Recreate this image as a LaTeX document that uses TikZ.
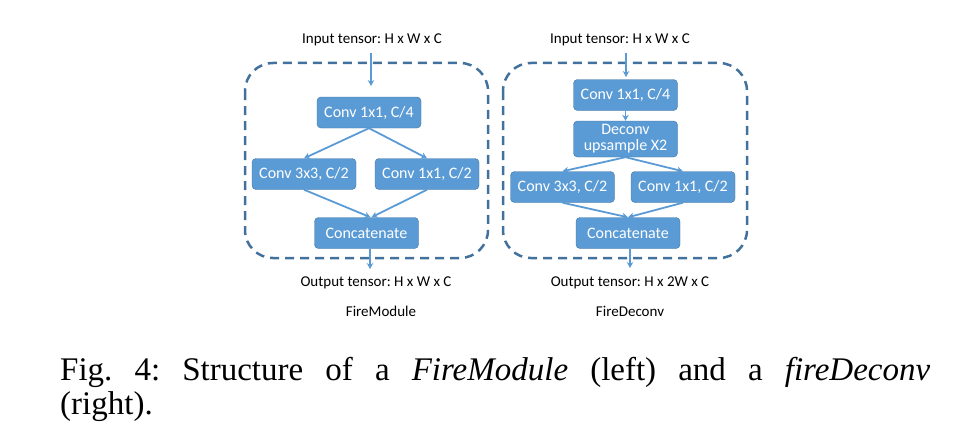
\documentclass[tikz,border=0pt]{standalone}
\usepackage{fontspec}
\setmainfont{Liberation Serif}
\newfontfamily\boxfont{Carlito}
\usetikzlibrary{arrows.meta}
\frenchspacing

\definecolor{boxblue}{HTML}{5B9BD5}
\definecolor{edgeblue}{HTML}{41719C}

\begin{document}
\begin{tikzpicture}[x=1pt, y=-1pt, >={Stealth[length=6pt,width=6.5pt]},
    layer/.style={rectangle, rounded corners=4pt, draw=edgeblue, fill=boxblue, text=white,
        minimum width=104pt, minimum height=31pt, inner sep=0pt, align=center,
        font=\boxfont\fontsize{16}{16}\selectfont},
    label/.style={inner sep=0pt, font=\boxfont\fontsize{15}{18}\selectfont},
    flow/.style={->, draw=boxblue, line width=1.8pt},
    frame/.style={draw=edgeblue, line width=2.5pt, dash pattern=on 9pt off 6pt, rounded corners=28pt}]
        \useasboundingbox (0,0) rectangle (958,444);

        % FireModule
        \node[label] (inL) at (372, 40) {Input tensor: H x W x C};
        \coordinate (inLend) at (371, 86);
        \draw[frame] (245, 63) rectangle (488, 258);
        \node[layer] (sqL) at (369, 112.5) {Conv 1x1, C/4};
        \node[layer] (e3L) at (304, 174) {Conv 3x3, C/2};
        \node[layer] (e1L) at (427, 174) {Conv 1x1, C/2};
        \node[layer] (catL) at (366.5, 233) {Concatenate};
        \coordinate (outLend) at (370, 269);
        \node[label] (outL) at (376, 283) {Output tensor: H x W x C};
        \node[label] (nameL) at (381, 311) {FireModule};

        \draw[flow] (371, 53) -- (inLend);
        \draw[flow] (sqL.south) -- (e3L.north);
        \draw[flow] (sqL.south) -- (e1L.north);
        \draw[flow] (e3L.south) -- ([xshift=4pt]catL.north);
        \draw[flow] (e1L.south) -- ([xshift=5pt]catL.north);
        \draw[flow] ([xshift=3.5pt]catL.south) -- (outLend);

        % FireDeconv
        \node[label] (inR) at (620, 40) {Input tensor: H x W x C};
        \coordinate (inRend) at (626, 77);
        \draw[frame] (503, 63) rectangle (747, 258);
        \node[layer] (sqR) at (625.5, 95) {Conv 1x1, C/4};
        \node[layer, minimum height=36pt] (upR) at (625.5, 139) {Deconv\\upsample X2};
        \node[layer] (e3R) at (562.5, 187) {Conv 3x3, C/2};
        \node[layer] (e1R) at (683, 187) {Conv 1x1, C/2};
        \node[layer] (catR) at (628, 233) {Concatenate};
        \coordinate (outRend) at (630, 268);
        \node[label] (outR) at (630, 283) {Output tensor: H x 2W x C};
        \node[label] (nameR) at (630, 311) {FireDeconv};

        \draw[flow] (626, 53) -- (inRend);
        \draw[flow] (sqR.south) -- (upR.north);
        \draw[flow] (upR.south) -- (e3R.north);
        \draw[flow] (upR.south) -- (e1R.north);
        \draw[flow] (e3R.south) -- (catR.north);
        \draw[flow] (e1R.south) -- (catR.north);
        \draw[flow] ([xshift=2pt]catR.south) -- (outRend);

        % caption
        \node[anchor=base west, inner sep=0pt, text width=870pt, align=justify,
            font=\fontsize{33}{34.5}\selectfont] (caption) at (60, 380)
            {Fig.~4: Structure of a \textit{FireModule} (left) and a \textit{fireDeconv}\linebreak (right).};
    \end{tikzpicture}
\end{document}
